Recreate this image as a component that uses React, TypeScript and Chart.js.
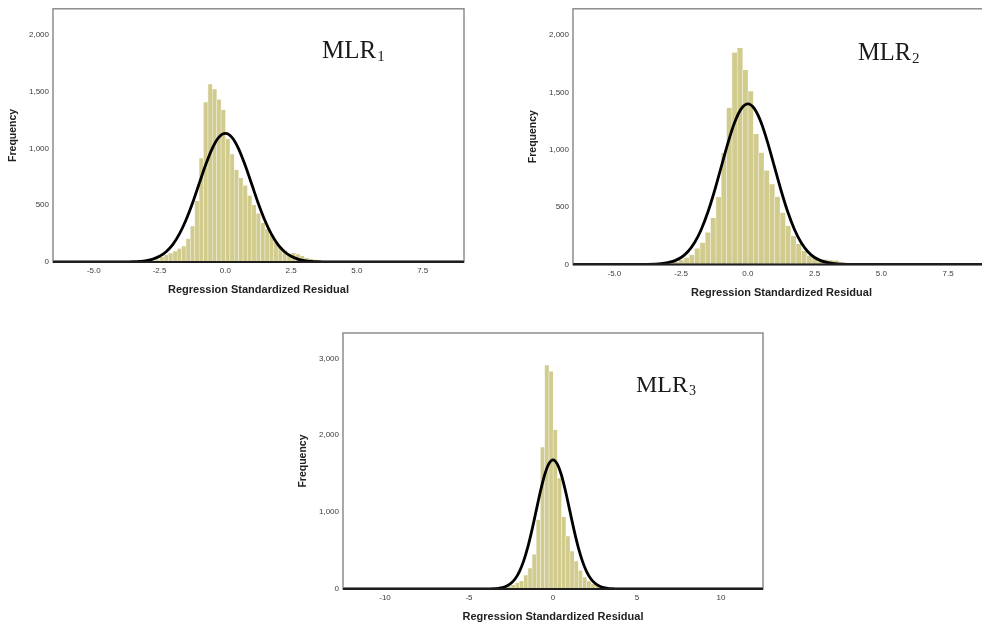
import React, { useEffect, useRef } from 'react';
import { Chart, registerables } from 'chart.js';

Chart.register(...registerables);

// ---------- data ----------
const MLR1_BIN_START = -2.8333;
const MLR1_BIN_WIDTH = 0.16667;
const MLR1_COUNTS = [10, 22, 45, 62, 78, 95, 118, 138, 205, 315, 538, 914, 1406, 1565, 1521, 1431, 1341, 1085, 950, 812, 740, 673, 586, 503, 428, 346, 290, 241, 178, 136, 102, 73, 80, 68, 52, 35, 26, 20, 15, 11, 8, 5];

const MLR2_BIN_START = -2.8;
const MLR2_BIN_WIDTH = 0.2;
const MLR2_COUNTS = [25, 40, 60, 85, 140, 190, 280, 405, 588, 972, 1368, 1848, 1888, 1697, 1512, 1139, 975, 820, 700, 590, 452, 338, 248, 179, 121, 78, 62, 48, 43, 37, 34, 20];

const MLR3_BIN_START = -3.0;
const MLR3_BIN_WIDTH = 0.25;
const MLR3_COUNTS = [20, 35, 55, 80, 105, 180, 270, 450, 900, 1845, 2912, 2830, 2070, 1440, 935, 685, 490, 361, 240, 153, 101, 67, 49, 35, 25, 15, 10, 6];

const CURVE_X = [-4, -3.75, -3.5, -3.25, -3, -2.75, -2.5, -2.25, -2, -1.75, -1.5, -1.25, -1, -0.75, -0.5, -0.25, 0, 0.25, 0.5, 0.75, 1, 1.25, 1.5, 1.75, 2, 2.25, 2.5, 2.75, 3, 3.25, 3.5, 3.75, 4];
const MLR1_CURVE = [0, 1, 2, 6, 13, 26, 50, 90, 153, 245, 368, 518, 687, 854, 999, 1097, 1132, 1097, 999, 854, 687, 518, 368, 245, 153, 90, 50, 26, 13, 6, 2, 1, 0];
const MLR2_CURVE = [0, 1, 3, 7, 16, 32, 61, 111, 189, 303, 455, 641, 849, 1057, 1236, 1357, 1400, 1357, 1236, 1057, 849, 641, 455, 303, 189, 111, 61, 32, 16, 7, 3, 1, 0];
const MLR3_CURVE = [1, 2, 4, 9, 19, 38, 74, 134, 227, 363, 545, 769, 1019, 1268, 1483, 1628, 1680, 1628, 1483, 1268, 1019, 769, 545, 363, 227, 134, 74, 38, 19, 9, 4, 2, 1];

const X_TICKS_12 = [-5, -2.5, 0, 2.5, 5, 7.5];
const X_TICKS_3 = [-10, -5, 0, 5, 10];
const Y_TICKS_12 = [0, 500, 1000, 1500, 2000];
const Y_TICKS_3 = [0, 1000, 2000, 3000];

const X_TITLE = 'Regression Standardized Residual';
const Y_TITLE = 'Frequency';

// ---------- styles ----------
const SANS = "Arial, 'Liberation Sans', sans-serif";
const SERIF = "'Times New Roman', 'Liberation Serif', serif";
const BAR_FILL = '#d1cb8e';
const BAR_EDGE = '#eeecd8';

type Cfg = {
  left: number; top: number; width: number; height: number;
  yAxisW: number; xAxisH: number; padTop: number; padRight: number;
  xMin: number; xMax: number; yMax: number;
  xTicks: number[]; yTicks: number[]; xDecimals: number;
  binStart: number; binWidth: number; counts: number[]; curve: number[];
  label: string; sub: string; labelX: number; labelY: number; labelSize: number;
};

const CHARTS: Cfg[] = [
  {
    left: 0, top: 0, width: 470, height: 305, yAxisW: 53, xAxisH: 43, padTop: 6, padRight: 6,
    xMin: -6.55, xMax: 9.07, yMax: 2230, xTicks: X_TICKS_12, yTicks: Y_TICKS_12, xDecimals: 1,
    binStart: MLR1_BIN_START, binWidth: MLR1_BIN_WIDTH, counts: MLR1_COUNTS, curve: MLR1_CURVE,
    label: 'MLR', sub: '1', labelX: 322, labelY: 58, labelSize: 25,
  },
  {
    left: 515, top: 0, width: 481, height: 310, yAxisW: 58, xAxisH: 45.5, padTop: 6, padRight: 6,
    xMin: -6.55, xMax: 9.07, yMax: 2230, xTicks: X_TICKS_12, yTicks: Y_TICKS_12, xDecimals: 1,
    binStart: MLR2_BIN_START, binWidth: MLR2_BIN_WIDTH, counts: MLR2_COUNTS, curve: MLR2_CURVE,
    label: 'MLR', sub: '2', labelX: 343, labelY: 60, labelSize: 24.5,
  },
  {
    left: 285, top: 320, width: 485, height: 308, yAxisW: 58, xAxisH: 39, padTop: 13, padRight: 7,
    xMin: -12.5, xMax: 12.5, yMax: 3330, xTicks: X_TICKS_3, yTicks: Y_TICKS_3, xDecimals: 0,
    binStart: MLR3_BIN_START, binWidth: MLR3_BIN_WIDTH, counts: MLR3_COUNTS, curve: MLR3_CURVE,
    label: 'MLR', sub: '3', labelX: 351, labelY: 72, labelSize: 24,
  },
];

function Histogram({ cfg }: { cfg: Cfg }) {
  const ref = useRef<HTMLCanvasElement>(null);

  useEffect(() => {
    if (!ref.current) return;
    const bars = cfg.counts.map((c, i) => ({ x: cfg.binStart + (i + 0.5) * cfg.binWidth, y: c }));
    const curve = [
      { x: cfg.xMin, y: 0 },
      ...CURVE_X.map((x, i) => ({ x, y: cfg.curve[i] })),
      { x: cfg.xMax, y: 0 },
    ];

    const decor = {
      id: 'decor',
      afterDraw(chart: any) {
        const { ctx, chartArea: a } = chart;
        ctx.save();
        // frame
        ctx.strokeStyle = '#858585';
        ctx.lineWidth = 1.4;
        ctx.strokeRect(a.left, a.top, a.right - a.left, a.bottom - a.top);
        ctx.strokeStyle = '#1e1e1e';
        ctx.lineWidth = 2;
        ctx.beginPath();
        ctx.moveTo(a.left, a.bottom);
        ctx.lineTo(a.right, a.bottom);
        ctx.stroke();
        // axis titles
        ctx.fillStyle = '#222';
        ctx.textAlign = 'center';
        ctx.textBaseline = 'middle';
        ctx.font = `bold 10.5px ${SANS}`;
        ctx.save();
        ctx.translate(a.left - 40, (a.top + a.bottom) / 2);
        ctx.rotate(-Math.PI / 2);
        ctx.fillText(Y_TITLE, 0, 0);
        ctx.restore();
        ctx.font = `bold 11px ${SANS}`;
        ctx.fillText(X_TITLE, (a.left + a.right) / 2, a.bottom + 28);
        // model label
        ctx.fillStyle = '#1a1a1a';
        ctx.textAlign = 'left';
        ctx.textBaseline = 'alphabetic';
        ctx.font = `${cfg.labelSize}px ${SERIF}`;
        ctx.fillText(cfg.label, cfg.labelX, cfg.labelY);
        const w = ctx.measureText(cfg.label).width;
        ctx.font = `${Math.round(cfg.labelSize * 0.6)}px ${SERIF}`;
        ctx.fillText(cfg.sub, cfg.labelX + w + 1, cfg.labelY + 3);
        ctx.restore();
      },
    };

    const chart = new Chart(ref.current, {
      type: 'bar',
      data: {
        datasets: [
          {
            type: 'line',
            data: curve,
            borderColor: '#000',
            borderWidth: 2.8,
            pointRadius: 0,
            fill: false,
            cubicInterpolationMode: 'monotone',
            order: 0,
          } as any,
          {
            type: 'bar',
            data: bars,
            backgroundColor: BAR_FILL,
            borderColor: BAR_EDGE,
            borderWidth: { left: 0.8, right: 0.4, top: 0, bottom: 0 },
            barPercentage: 1,
            categoryPercentage: 1,
            grouped: false,
            order: 1,
          } as any,
        ],
      },
      options: {
        responsive: false,
        animation: false,
        events: [],
        layout: { padding: { left: 0, bottom: 0, top: cfg.padTop, right: cfg.padRight } },
        plugins: { legend: { display: false }, tooltip: { enabled: false }, title: { display: false } },
        scales: {
          x: {
            type: 'linear',
            offset: false,
            min: cfg.xMin,
            max: cfg.xMax,
            grid: { display: false, drawTicks: false, offset: false },
            border: { display: false },
            ticks: {
              padding: 4,
              maxRotation: 0,
              autoSkip: false,
              color: '#3a3a3a',
              font: { family: SANS, size: 8 },
              callback: (v: any) => Number(v).toFixed(cfg.xDecimals),
            },
            afterBuildTicks: (s: any) => { s.ticks = cfg.xTicks.map((v) => ({ value: v })); },
            afterFit: (s: any) => { s.height = cfg.xAxisH; },
          },
          y: {
            type: 'linear',
            min: 0,
            max: cfg.yMax,
            grid: { display: false, drawTicks: false },
            border: { display: false },
            ticks: {
              padding: 4,
              autoSkip: false,
              color: '#3a3a3a',
              font: { family: SANS, size: 8 },
              callback: (v: any) => Number(v).toLocaleString('en-US'),
            },
            afterBuildTicks: (s: any) => { s.ticks = cfg.yTicks.map((v) => ({ value: v })); },
            afterFit: (s: any) => { s.width = cfg.yAxisW; },
          },
        },
      } as any,
      plugins: [decor],
    });
    return () => chart.destroy();
  }, [cfg]);

  return (
    <canvas
      ref={ref}
      width={cfg.width}
      height={cfg.height}
      style={{ position: 'absolute', left: cfg.left, top: cfg.top, width: cfg.width, height: cfg.height }}
    />
  );
}

export default function App() {
  return (
    <div style={{ position: 'fixed', left: 0, top: 0, width: 982, height: 628, overflow: 'hidden', background: '#fff' }}>
      {CHARTS.map((c, i) => (
        <Histogram key={i} cfg={c} />
      ))}
    </div>
  );
}
